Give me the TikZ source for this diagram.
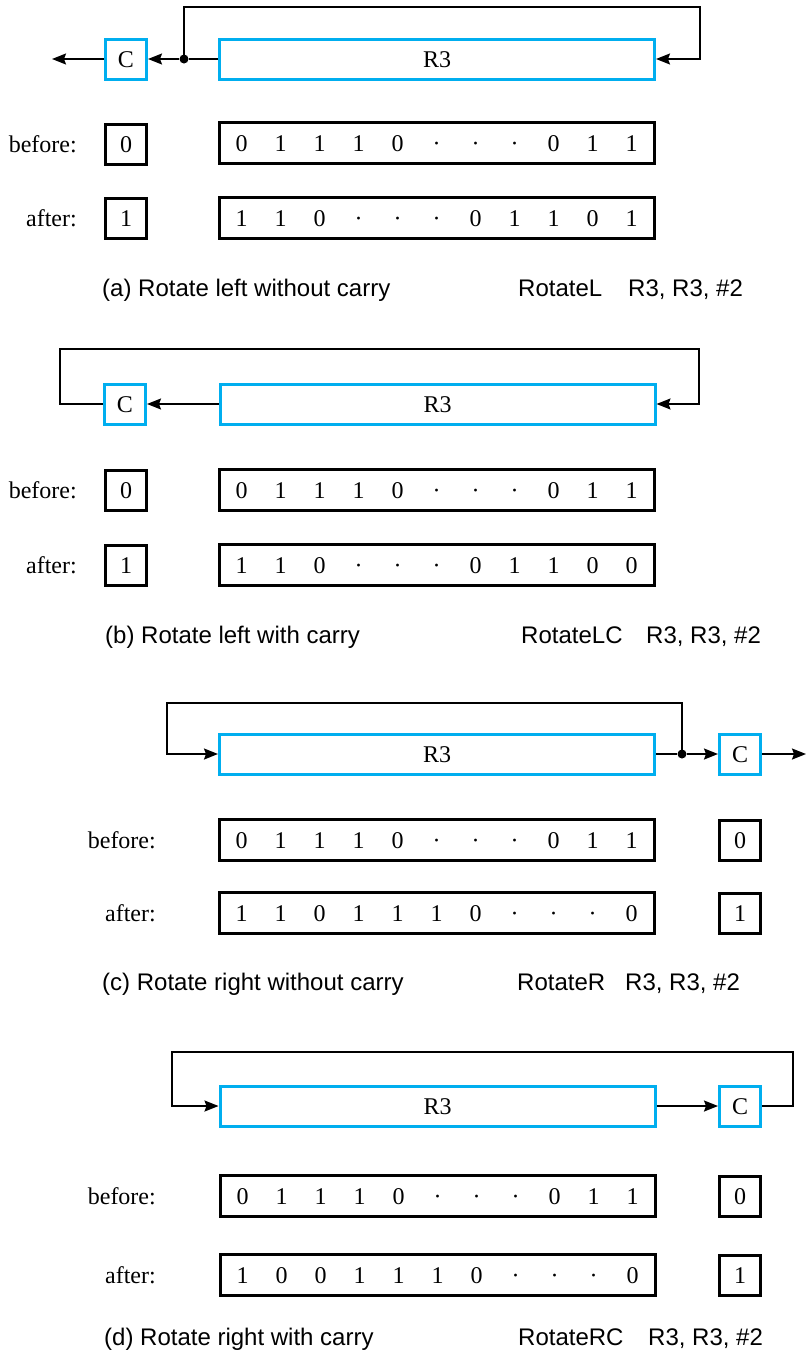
\documentclass[tikz,border=0pt]{standalone}
\usepackage{fontspec}
\setmainfont{Liberation Serif}
\newfontfamily\capfont{Liberation Sans}
\usetikzlibrary{arrows.meta}
\definecolor{cblue}{RGB}{0,174,239}
\newcommand{\bitrow}[4]{%
  \node[bitbox] (#1) at (#2,#3) {};
  \foreach \b [count=\i from 0] in {#4} {
    \node[bitfont] (#1-\i) at ({#2+(\i-5)*39},#3) {\b};
  }%
}
\begin{document}
\begin{tikzpicture}[x=1pt,y=-1pt,
  serif/.style={font=\fontsize{24}{26}\selectfont, text height=16pt, text depth=0pt},
  bitfont/.style={serif, inner sep=0pt},
  regbox/.style={serif, draw=cblue, line width=3pt, minimum width=435pt, minimum height=40pt, inner sep=0pt},
  cbox/.style={serif, draw=cblue, line width=3pt, minimum width=41pt, minimum height=40pt, inner sep=0pt},
  bitbox/.style={draw=black, line width=3pt, minimum width=435pt, minimum height=41pt, inner sep=0pt},
  cvalbox/.style={serif, draw=black, line width=3pt, minimum width=41pt, minimum height=40pt, inner sep=0pt},
  rowlabel/.style={serif, anchor=east, inner sep=0pt},
  captext/.style={anchor=base west, inner sep=0pt, font=\capfont\fontsize{24}{26}\selectfont},
  wire/.style={line width=1.7pt},
  arr/.style={wire, -{Stealth[length=14pt,width=11pt,inset=2pt]}},
  junc/.style={circle, fill=black, inner sep=0pt, minimum size=9pt}
]
\path[use as bounding box] (0,0) rectangle (808,1352);

% ===== (a) =====
\node[cbox] (Ca) at (126,59) {C};
\node[regbox] (Ra) at (437,59) {R3};
\node[junc] (Ja) at (184,59) {};
\coordinate (Oa) at (52,59);
\draw[wire] (Ra.west) -- (Ja);
\draw[arr] (Ja) -- (Ca.east);
\draw[arr] (Ca.west) -- (Oa);
\draw[arr] (Ja.center) -- (184,7) -- (700,7) -- (700,59) -- (Ra.east);
\node[rowlabel] (bfa) at (77,144) {before:};
\node[cvalbox] (cba) at (126,144) {0};
\bitrow{rba}{436.5}{143}{0,1,1,1,0,·,·,·,0,1,1}
\node[rowlabel] (afa) at (77,218) {after:};
\node[cvalbox] (caa) at (126,218) {1};
\bitrow{raa}{436.5}{218}{1,1,0,·,·,·,0,1,1,0,1}
\node[captext] (capa) at (102,296) {(a) Rotate left without carry};
\node[captext] (opa) at (518,296) {RotateL};
\node[captext] (arga) at (628,296) {R3, R3, \#2};

% ===== (b) =====
\node[cbox] (Cb) at (125,404) {C};
\node[regbox] (Rb) at (437.5,404) {R3};
\draw[arr] (Rb.west) -- (Cb.east);
\draw[arr] (Cb.west) -- (60,404) -- (60,349) -- (699,349) -- (699,404) -- (Rb.east);
\node[rowlabel] (bfb) at (77,490) {before:};
\node[cvalbox] (cbb) at (126,490) {0};
\bitrow{rbb}{436.5}{490}{0,1,1,1,0,·,·,·,0,1,1}
\node[rowlabel] (afb) at (77,565) {after:};
\node[cvalbox] (cab) at (126,565) {1};
\bitrow{rab}{436.5}{565}{1,1,0,·,·,·,0,1,1,0,0}
\node[captext] (capb) at (105,643) {(b) Rotate left with carry};
\node[captext] (opb) at (521,643) {RotateLC};
\node[captext] (argb) at (646,643) {R3, R3, \#2};

% ===== (c) =====
\node[regbox] (Rc) at (437,754) {R3};
\node[cbox] (Cc) at (740,754) {C};
\node[junc] (Jc) at (682,754) {};
\coordinate (Oc) at (806,754);
\draw[wire] (Rc.east) -- (Jc);
\draw[arr] (Jc) -- (Cc.west);
\draw[arr] (Cc.east) -- (Oc);
\draw[arr] (Jc.center) -- (682,703) -- (167,703) -- (167,754) -- (Rc.west);
\node[rowlabel] (bfc) at (156,840) {before:};
\bitrow{rbc}{436.5}{840}{0,1,1,1,0,·,·,·,0,1,1}
\node[cvalbox] (cbc) at (740,840) {0};
\node[rowlabel] (afc) at (156,913) {after:};
\bitrow{rac}{436.5}{913}{1,1,0,1,1,1,0,·,·,·,0}
\node[cvalbox] (cac) at (740,913) {1};
\node[captext] (capc) at (102,990) {(c) Rotate right without carry};
\node[captext] (opc) at (517,990) {RotateR};
\node[captext] (argc) at (625,990) {R3, R3, \#2};

% ===== (d) =====
\node[regbox] (Rd) at (437.5,1106) {R3};
\node[cbox] (Cd) at (740,1106) {C};
\draw[arr] (Rd.east) -- (Cd.west);
\draw[arr] (Cd.east) -- (793,1106) -- (793,1052) -- (172,1052) -- (172,1106) -- (Rd.west);
\node[rowlabel] (bfd) at (156,1196) {before:};
\bitrow{rbd}{437.5}{1196}{0,1,1,1,0,·,·,·,0,1,1}
\node[cvalbox] (cbd) at (740,1196) {0};
\node[rowlabel] (afd) at (156,1275) {after:};
\bitrow{rad}{437.5}{1275}{1,0,0,1,1,1,0,·,·,·,0}
\node[cvalbox] (cad) at (740,1275) {1};
\node[captext] (capd) at (104,1345) {(d) Rotate right with carry};
\node[captext] (opd) at (518,1345) {RotateRC};
\node[captext] (argd) at (648,1345) {R3, R3, \#2};
\end{tikzpicture}
\end{document}
